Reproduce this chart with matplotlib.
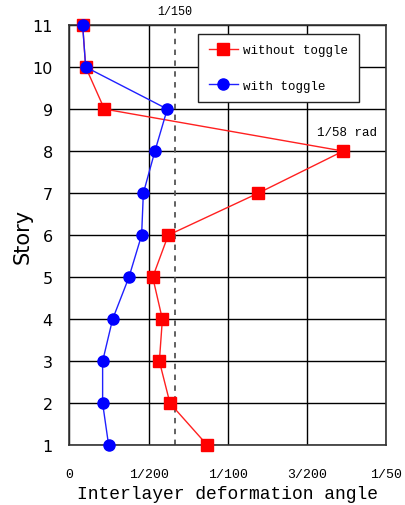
import matplotlib
matplotlib.use("Agg")
import matplotlib.pyplot as plt

# story drift angle per floor
stories = [1, 2, 3, 4, 5, 6, 7, 8, 9, 10, 11]
without_toggle = [0.00870, 0.00634, 0.00567, 0.00586, 0.00525, 0.00623,
                  0.01191, 0.01727, 0.00220, 0.00102, 0.00083]
with_toggle = [0.00247, 0.00209, 0.00209, 0.00272, 0.00375, 0.00455,
               0.00466, 0.00539, 0.00617, 0.00102, 0.00083]
xticks = [0, 1/200, 1/100, 3/200, 1/50]
xtick_labels = ["0", "1/200", "1/100", "3/200", "1/50"]
limit = 1/150

mono = ["Liberation Mono", "DejaVu Sans Mono"]

fig = plt.figure(figsize=(4.05, 5.06), dpi=100)
ax = fig.add_axes([0.1716, 0.118, 0.7827, 0.8306])

ax.plot(without_toggle, stories, color="#ff2020", lw=1, marker="s", ms=8.5,
        mfc="red", mec="red", label="without toggle", zorder=3, clip_on=False)
ax.plot(with_toggle, stories, color="#2020ff", lw=1, marker="o", ms=8,
        mfc="blue", mec="blue", label="with toggle", zorder=4, clip_on=False)
ax.axvline(limit, color="#555555", lw=1.3, ls=(0, (3, 3)), zorder=2)

ax.set_xlim(0, 0.02)
ax.set_ylim(1, 11)
ax.set_xticks(xticks)
ax.set_xticklabels(xtick_labels, family=mono, fontsize=9.5)
ax.set_yticks(stories)
ax.set_yticklabels([str(s) for s in stories], fontsize=11.5)
ax.tick_params(axis="x", length=0, pad=16)
ax.tick_params(axis="y", length=0, pad=12)
ax.grid(True, color="black", lw=1)
for s in ax.spines.values():
    s.set_color("#333333")
    s.set_linewidth(1.2)

ax.set_xlabel("Interlayer deformation angle", family=mono, fontsize=13, labelpad=4)
ax.set_ylabel("Story", fontsize=15)
ax.yaxis.set_label_coords(-0.115, 0.5)

ax.annotate("1/150", (limit, 11), xytext=(0, 10), textcoords="offset points",
            ha="center", va="center", family=mono, fontsize=8.5)
ax.annotate("1/58 rad", (without_toggle[7], 8), xytext=(3, 14),
            textcoords="offset points", ha="center", va="center",
            family=mono, fontsize=9)

leg = ax.legend(loc="upper right", bbox_to_anchor=(0.913, 0.979),
                prop={"family": mono, "size": 9},
                fancybox=False, edgecolor="#222222", framealpha=1,
                handlelength=2.3, handletextpad=0.45, labelspacing=1.85,
                borderpad=0.85, borderaxespad=0)
leg.get_frame().set_linewidth(1)

fig.savefig("out.png", dpi=100)
